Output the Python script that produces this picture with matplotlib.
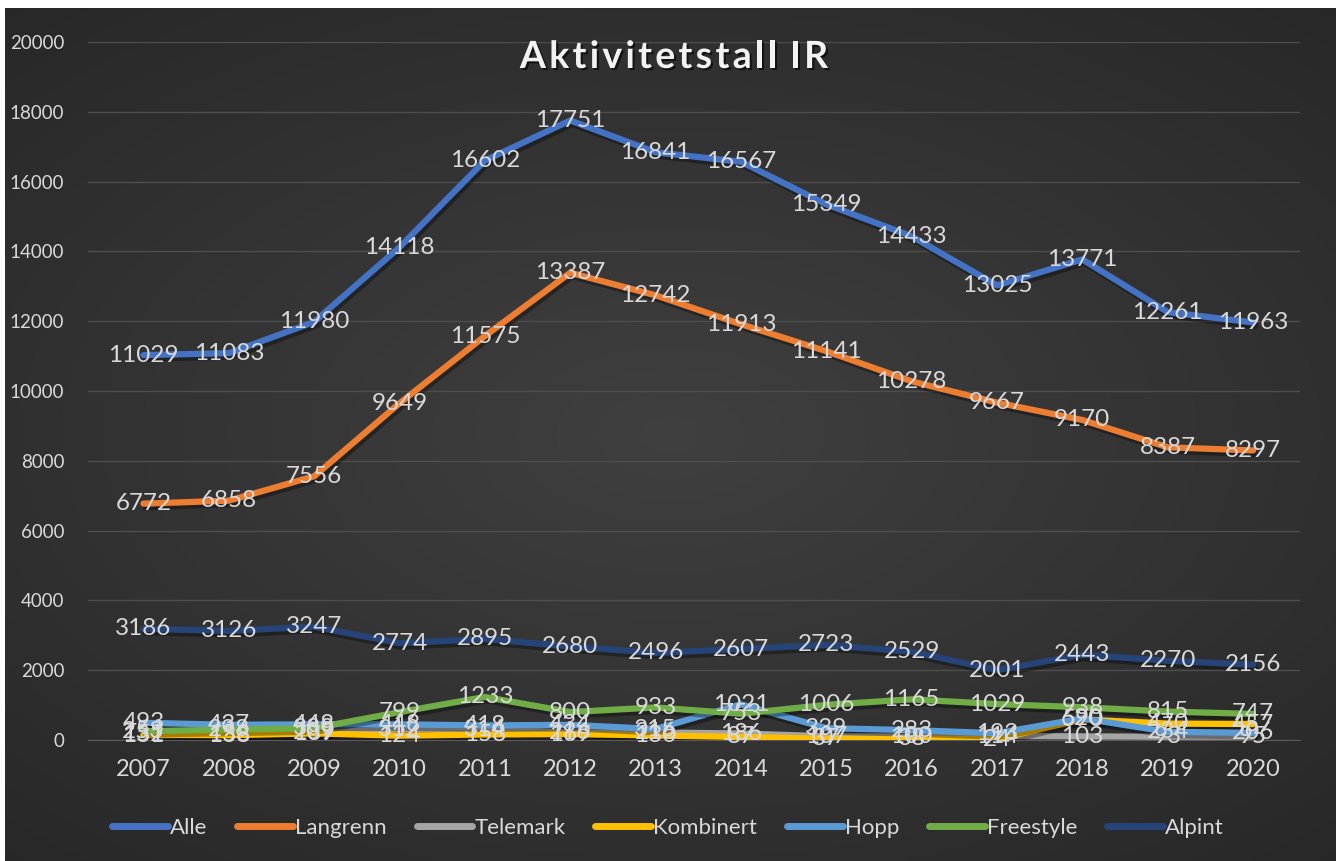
import numpy as np
import matplotlib
matplotlib.use("Agg")
import matplotlib.pyplot as plt
import matplotlib.patheffects as pe

plt.rcParams['font.family'] = ['Lato', 'DejaVu Sans']

years = ['2007', '2008', '2009', '2010', '2011', '2012', '2013',
         '2014', '2015', '2016', '2017', '2018', '2019', '2020']

alle = [11029, 11083, 11980, 14118, 16602, 17751, 16841, 16567, 15349, 14433, 13025, 13771, 12261, 11963]
langrenn = [6772, 6858, 7556, 9649, 11575, 13387, 12742, 11913, 11141, 10278, 9667, 9170, 8387, 8297]
telemark = [131, 158, 209, 312, 314, 216, 216, 186, 107, 100, 114, 103, 93, 95]
kombinert = [152, 138, 189, 124, 158, 169, 130, 87, 37, 38, 24, 590, 470, 457]
hopp = [493, 437, 448, 448, 418, 434, 315, 1021, 339, 283, 193, 620, 234, 206]
freestyle = [253, 298, 339, 799, 1233, 800, 933, 753, 1006, 1165, 1029, 938, 815, 747]
alpint = [3186, 3126, 3247, 2774, 2895, 2680, 2496, 2607, 2723, 2529, 2001, 2443, 2270, 2156]

series = [
    ('Alle', alle, '#4472C4'),
    ('Langrenn', langrenn, '#ED7D31'),
    ('Telemark', telemark, '#A5A5A5'),
    ('Kombinert', kombinert, '#FFC000'),
    ('Hopp', hopp, '#5B9BD5'),
    ('Freestyle', freestyle, '#70AD47'),
    ('Alpint', alpint, '#264478'),
]

W, H = 1336, 861
fig = plt.figure(figsize=(W / 100, H / 100), dpi=100, facecolor='white')

# dark radial gradient background
bg = fig.add_axes([5 / W, 0, 1 - 5 / W, 1 - 8 / H])
yy, xx = np.mgrid[-1:1:300j, -1:1:460j]
r = np.sqrt((xx * 0.9) ** 2 + (yy * 1.0) ** 2)
shade = np.clip(0.25 - 0.07 * r, 0.14, 0.26)
bg.imshow(np.dstack([shade, shade, shade]), aspect='auto', extent=[0, 1, 0, 1])
bg.set_axis_off()

ax = fig.add_axes([88 / W, 121 / H, (1300 - 88) / W, (740 - 42) / H])
ax.patch.set_alpha(0)
x = np.arange(len(years))

txt = '#D9D9D9'
shadow = [pe.SimpleLineShadow(offset=(1.5, -2.5), shadow_color='black', alpha=0.35), pe.Normal()]
for name, vals, col in series:
    ax.plot(x, vals, color=col, lw=4.5, label=name, solid_capstyle='round',
            solid_joinstyle='round', path_effects=shadow, zorder=3)

for name, vals, col in series:
    for xi, v in zip(x, vals):
        ax.text(xi, v, str(v), ha='center', va='center', color=txt,
                fontsize=17.5, zorder=5)

ax.set_xlim(-0.65, 13.55)
ax.set_ylim(0, 20000)
ax.set_yticks(range(0, 20001, 2000))
ax.set_xticks(x)
ax.set_xticklabels(years)
ax.tick_params(axis='both', length=0, colors=txt)
ax.tick_params(axis='y', pad=17, labelsize=13.5)
ax.tick_params(axis='x', pad=14, labelsize=17)
ax.grid(axis='y', color='#4E4E4E', lw=1)
ax.set_axisbelow(True)
for s in ['top', 'right', 'left']:
    ax.spines[s].set_visible(False)
ax.spines['bottom'].set_color('#5A5A5A')

# title drawn letter by letter to get the wide spacing
title = 'Aktivitetstall IR'
title_fx = [pe.withSimplePatchShadow(offset=(1.5, -1.5), shadow_rgbFace='black', alpha=0.6)]
renderer = fig.canvas.get_renderer()
widths = []
for ch in title:
    if ch == ' ':
        widths.append(6.0)
        continue
    t = fig.text(0, 0, ch, fontsize=27, fontweight='bold')
    widths.append(t.get_window_extent(renderer).width)
    t.remove()
spacing = 3.3
total = sum(widths) + spacing * (len(title) - 1)
xpos = 674 - total / 2
for ch, w in zip(title, widths):
    if ch != ' ':
        fig.text(xpos / W, 1 - 57 / H, ch, ha='left', va='center', color='#F2F2F2',
                 fontsize=27, fontweight='bold', path_effects=title_fx)
    xpos += w + spacing

leg = fig.legend(loc='center', bbox_to_anchor=(0.5, 1 - 828 / H), ncol=7, frameon=False,
                 fontsize=16, handlelength=2.5, handletextpad=0.1, columnspacing=1.35)
for t in leg.get_texts():
    t.set_color(txt)
for h in leg.get_lines():
    h.set_path_effects([])
    h.set_linewidth(5)

fig.savefig('out.png', dpi=100, facecolor=fig.get_facecolor())
